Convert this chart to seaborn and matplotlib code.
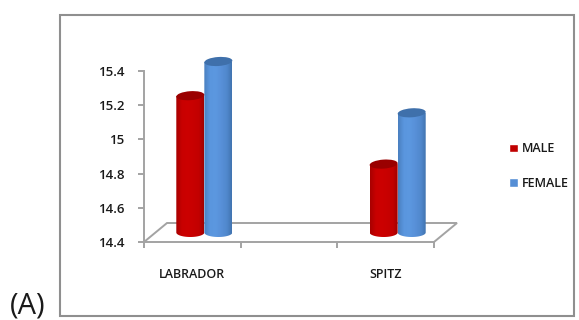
import numpy as np
import pandas as pd
import matplotlib
matplotlib.use("Agg")
import matplotlib.pyplot as plt
import seaborn as sns
from matplotlib.colors import LinearSegmentedColormap
from matplotlib.patches import Ellipse, Rectangle, PathPatch
from matplotlib.path import Path
from matplotlib.transforms import IdentityTransform

# ---------- Data ----------
breeds = ["LABRADOR", "LABRADOR", "SPITZ", "SPITZ"]
sexes = ["MALE", "FEMALE", "MALE", "FEMALE"]
values = [15.2, 15.4, 14.8, 15.1]
slots = ["LABRADOR", "", "SPITZ"]
y_ticks = [14.4, 14.6, 14.8, 15.0, 15.2, 15.4]
y_tick_labels = ["14.4", "14.6", "14.8", "15", "15.2", "15.4"]

df = pd.DataFrame({"breed": breeds, "sex": sexes, "value": values})

sns.set_theme(style="white")
plt.rcParams["font.family"] = ["Open Sans", "DejaVu Sans"]

W, H = 579, 320
GREY = "#a3a3a3"
TEXT = "#1a1a1a"
palette = {"MALE": "#c00000", "FEMALE": "#558ed5"}
ramps = {
    "MALE": ["#a80000", "#c80000", "#cc0000", "#c80000", "#c20000", "#9a0000"],
    "FEMALE": ["#4a7fc0", "#5a96de", "#5c98e0", "#5890d8", "#5088cc", "#3f70ab"],
}
tops = {"MALE": "#9a0000", "FEMALE": "#3f70ab"}


def px_axes(fig, x0, x1, y_top, y_bottom):
    return fig.add_axes([x0 / W, 1 - y_bottom / H, (x1 - x0) / W, (y_bottom - y_top) / H])


fig = plt.figure(figsize=(W / 100, H / 100), dpi=100, facecolor="white")

# outer frame
fig.add_artist(Rectangle((60 / W, 1 - 316 / H), 514 / W, 301 / H, transform=fig.transFigure,
                         fill=False, edgecolor="#8f8f8f", linewidth=1.5))

# ---------- Front axis: ticks, labels and floor ----------
ax = px_axes(fig, 144, 434, 71, 242)
ax.set_xlim(-0.5, 2.5)
ax.set_ylim(14.4, 15.4)
ax.patch.set_alpha(0)
ax.set_yticks(y_ticks)
ax.set_yticklabels(y_tick_labels, fontsize=9.5, fontweight="semibold", color=TEXT)
ax.set_xticks([-0.5, 0.5, 1.5, 2.5])
ax.set_xticklabels([])
ax.tick_params(axis="both", length=4, width=1.4, color=GREY, pad=10, left=True, bottom=True)
for name, spine in ax.spines.items():
    spine.set_visible(name in ("left", "bottom"))
    spine.set_color(GREY)
    spine.set_linewidth(1.4)

# category labels sit in slot centres
for slot, label in enumerate(slots):
    if label:
        ax.annotate(label, (slot, 0), xycoords=ax.get_xaxis_transform(), xytext=(0, -33),
                    textcoords="offset pixels", ha="center", va="center",
                    fontsize=9, fontweight="semibold", color=TEXT)

# floor of the 3D box
dx, dy = 23 / 290, 19 / 171
ax.plot([0, dx, 1 + dx, 1, 1], [0, dy, dy, 0, 0], transform=ax.transAxes, color=GREY,
        linewidth=1.4, clip_on=False, solid_joinstyle="miter")

# ---------- Bars, shifted half way into the floor ----------
bar_ax = px_axes(fig, 156, 446, 61.5, 232.5)
sns.barplot(data=df, x="breed", y="value", hue="sex", order=slots, hue_order=["MALE", "FEMALE"],
            palette=palette, width=0.58, gap=0, dodge=True, legend=False, ax=bar_ax, saturation=1)
bar_ax.set_xlim(-0.5, 2.5)
bar_ax.set_ylim(14.4, 15.4)
bar_ax.axis("off")
fig.canvas.draw()

bars = [p for c in bar_ax.containers for p in c.patches]
bar_sex = [s for c, s in zip(bar_ax.containers, ["MALE", "FEMALE"]) for _ in c.patches]
for i in sorted(range(len(bars)), key=lambda k: bars[k].get_x()):
    bar, sex = bars[i], bar_sex[i]
    if not np.isfinite(bar.get_height()) or bar.get_height() == 0:
        continue
    x0, x1 = bar.get_x(), bar.get_x() + bar.get_width()
    (px0, py0), (px1, py1) = bar_ax.transData.transform([(x0, 14.4), (x1, bar.get_height())])
    pw = px1 - px0
    eh = 9
    # body with rounded foot, shaded from edge to edge
    t = np.linspace(np.pi, 2 * np.pi, 40)
    foot = np.column_stack([px0 + pw / 2 + pw / 2 * np.cos(t), py0 + eh / 2 * np.sin(t)])
    verts = np.vstack([[(px0, py1)], foot, [(px1, py1)], [(px0, py1)]])
    clip = PathPatch(Path(verts), transform=IdentityTransform(), facecolor="none", edgecolor="none")
    fig.add_artist(clip)
    cmap = LinearSegmentedColormap.from_list(sex, ramps[sex])
    grad_ax = fig.add_axes([px0 / W, (py0 - eh) / H, pw / W, (py1 - py0 + eh) / H])
    grad_ax.axis("off")
    im = grad_ax.imshow(np.linspace(0, 1, 64).reshape(1, -1), cmap=cmap, aspect="auto")
    im.set_clip_path(clip)
    # lid
    fig.add_artist(Ellipse((px0 + pw / 2, py1), pw, eh, angle=4, transform=IdentityTransform(),
                           facecolor=tops[sex], edgecolor="none"))
    bar.set_visible(False)

# ---------- Legend ----------
handles = [Rectangle((0, 0), 1, 1, facecolor=palette[s]) for s in ["MALE", "FEMALE"]]
fig.legend(handles, ["MALE", "FEMALE"], loc="center left", bbox_to_anchor=(509 / W, 1 - 166 / H),
           frameon=False, handlelength=0.7, handleheight=0.7, handletextpad=0.3,
           labelspacing=1.7, borderpad=0, borderaxespad=0,
           prop={"size": 9, "weight": "semibold"}, labelcolor=TEXT)

fig.text(10 / W, 1 - 306 / H, "(A)", fontsize=21, color=TEXT, ha="left", va="center")

fig.savefig("out.png", dpi=100)
